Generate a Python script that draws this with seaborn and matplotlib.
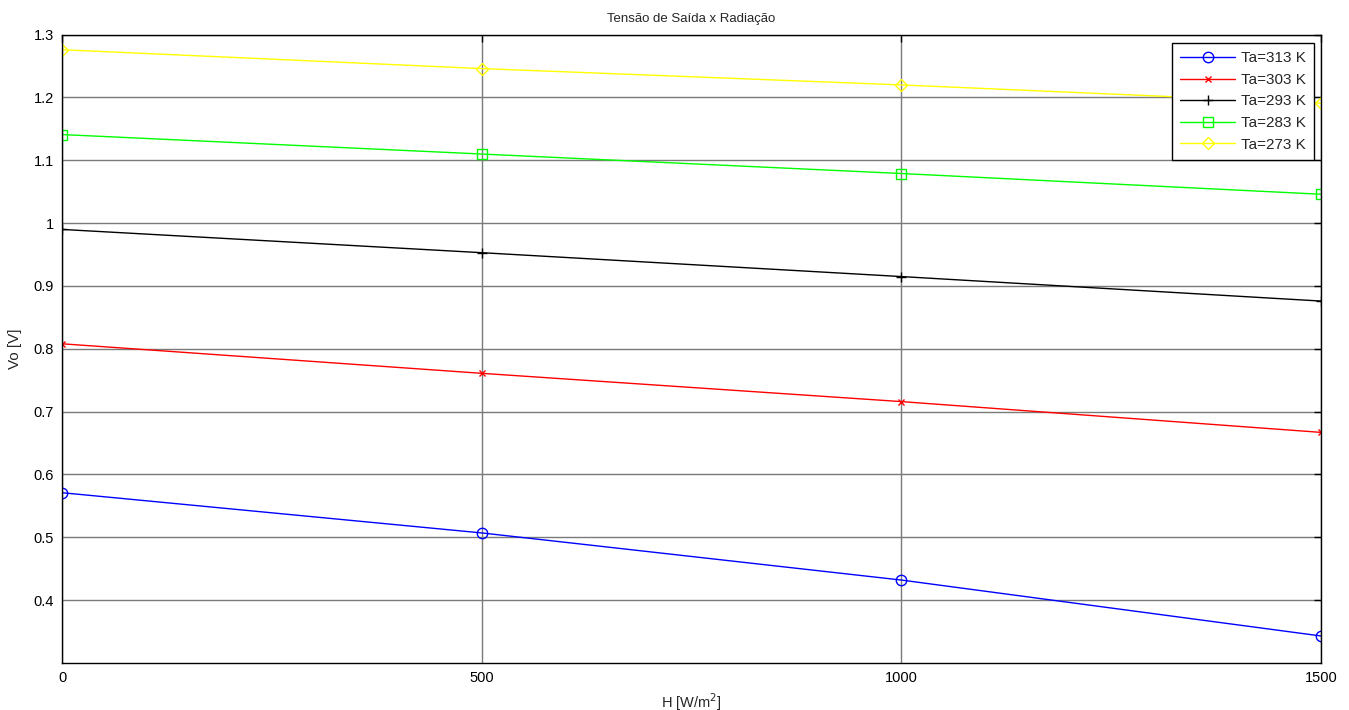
import pandas as pd
import matplotlib
matplotlib.use("Agg")
import matplotlib.pyplot as plt
import seaborn as sns

# -----------------------------
# DATA
# -----------------------------

radiation = [0, 500, 1000, 1500]

vo_313 = [0.571, 0.507, 0.432, 0.343]
vo_303 = [0.808, 0.761, 0.716, 0.667]
vo_293 = [0.990, 0.953, 0.915, 0.876]
vo_283 = [1.141, 1.110, 1.079, 1.046]
vo_273 = [1.276, 1.246, 1.220, 1.191]

series_names = ["Ta=313 K", "Ta=303 K", "Ta=293 K", "Ta=283 K", "Ta=273 K"]
series_values = [vo_313, vo_303, vo_293, vo_283, vo_273]

x_ticks = [0, 500, 1000, 1500]
y_ticks = [0.4, 0.5, 0.6, 0.7, 0.8, 0.9, 1.0, 1.1, 1.2, 1.3]
y_tick_labels = ["0.4", "0.5", "0.6", "0.7", "0.8", "0.9", "1", "1.1", "1.2", "1.3"]

colors = {
    "Ta=313 K": "#0000ff",
    "Ta=303 K": "#ff0000",
    "Ta=293 K": "#000000",
    "Ta=283 K": "#00ff00",
    "Ta=273 K": "#ffff00",
}
markers = {
    "Ta=313 K": "o",
    "Ta=303 K": "x",
    "Ta=293 K": "+",
    "Ta=283 K": "s",
    "Ta=273 K": "D",
}

rows = []
for name, values in zip(series_names, series_values):
    for h, v in zip(radiation, values):
        rows.append({"H": h, "Vo": v, "serie": name})
df = pd.DataFrame(rows)

# -----------------------------
# PLOT
# -----------------------------

sns.set_style("white")
plt.rcParams["font.family"] = ["Liberation Sans", "DejaVu Sans"]

fig = plt.figure(figsize=(13.49, 7.10), dpi=100)
ax = fig.add_axes([0.046, 0.0662, 0.9333, 0.885])

for name in series_names:
    sub = df[df["serie"] == name]
    m = markers[name]
    size = {"o": 7.5, "s": 7.5, "D": 6.5, "x": 5, "+": 7}[m]
    sns.lineplot(
        data=sub,
        x="H",
        y="Vo",
        color=colors[name],
        marker=m,
        markersize=size,
        markerfacecolor="none",
        markeredgecolor=colors[name],
        markeredgewidth=1.0,
        linewidth=1.0,
        label=name,
        ax=ax,
    )

ax.set_xlim(0, 1500)
ax.set_ylim(0.3, 1.3)
ax.set_xticks(x_ticks)
ax.set_xticklabels([str(t) for t in x_ticks])
ax.set_yticks(y_ticks)
ax.set_yticklabels(y_tick_labels)

ax.grid(True, color="#7a7a7a", linewidth=1.0)
ax.set_axisbelow(True)
ax.tick_params(direction="in", length=5, width=1, top=True, right=True,
               labelsize=10.5, colors="black", pad=6)
for spine in ax.spines.values():
    spine.set_color("black")
    spine.set_linewidth(1.0)

ax.set_title("Tensão de Saída x Radiação", fontsize=9.5, pad=9)
ax.set_xlabel("H [W/m$^2$]", fontsize=10.5, labelpad=4)
ax.set_ylabel("Vo [V]", fontsize=11, labelpad=8)

leg = ax.legend(loc="upper right", bbox_to_anchor=(0.9944, 0.987),
                borderaxespad=0,
                fontsize=11, frameon=True, fancybox=False,
                edgecolor="black", framealpha=1, borderpad=0.55,
                labelspacing=0.5, handlelength=3.6, handletextpad=0.35)
leg.get_frame().set_linewidth(1.0)

plt.savefig("out.png", dpi=100)
